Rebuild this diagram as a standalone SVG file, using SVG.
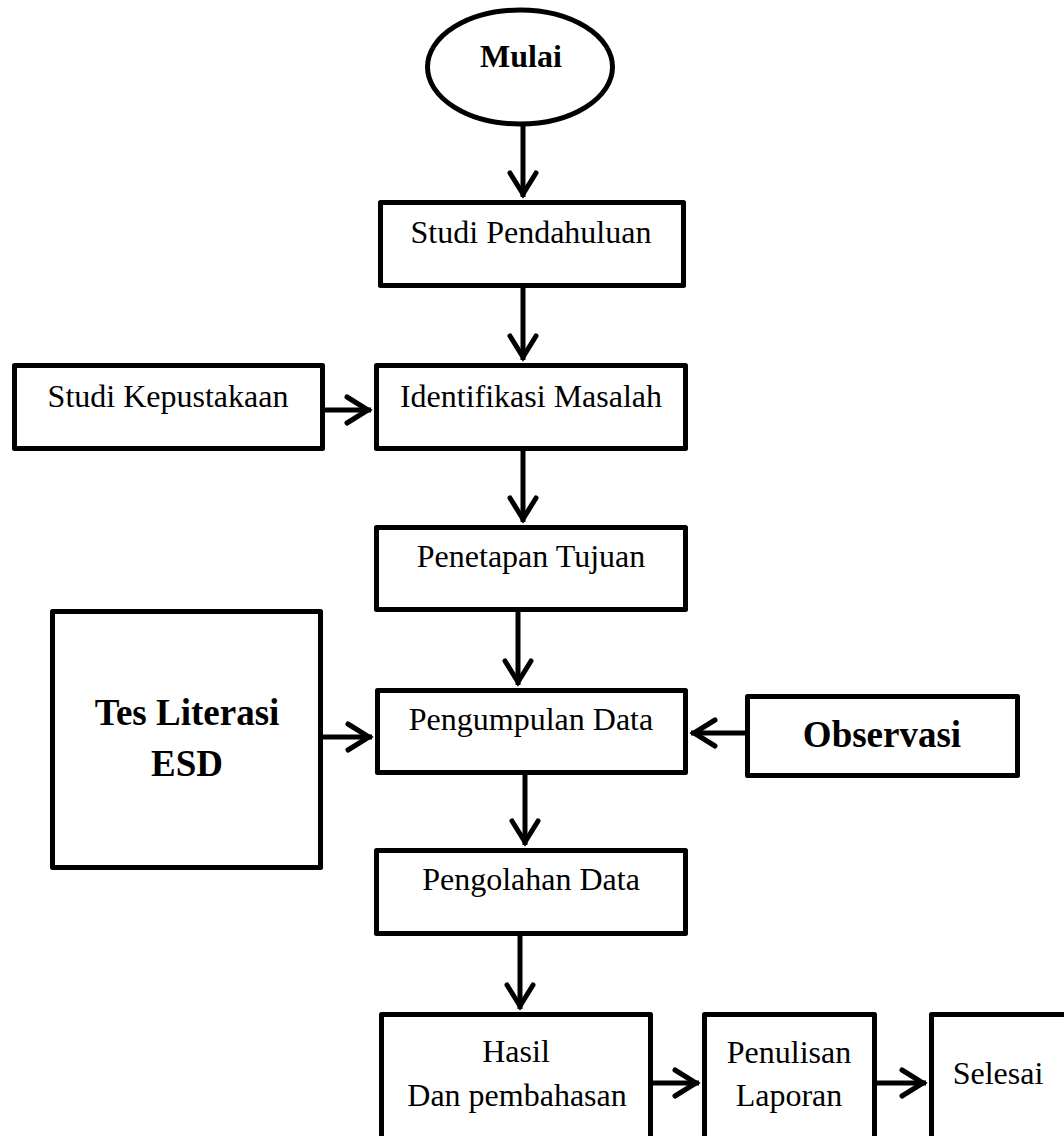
<svg xmlns="http://www.w3.org/2000/svg" width="1064" height="1136" viewBox="0 0 1064 1136">
<style>
.box{fill:#fff;stroke:#000;stroke-width:5;stroke-linejoin:round}
.t{font-family:"Liberation Serif","Times New Roman",serif;font-size:32px;fill:#000;text-anchor:middle}
.b{font-weight:bold}
.big{font-size:37px}
.conn line{stroke:#000;stroke-width:5}
</style>
<defs>
<marker id="ah" markerUnits="userSpaceOnUse" markerWidth="40" markerHeight="40" viewBox="-30 -20 40 40" refX="3" refY="0" orient="auto">
<path d="M-21,-13 L0,0 L-21,13" fill="none" stroke="#000" stroke-width="5" stroke-linecap="round" stroke-linejoin="miter"/>
</marker>
</defs>
<rect width="1064" height="1136" fill="#fff"/>
<g class="conn">
<line x1="523" y1="126" x2="523" y2="197" marker-end="url(#ah)"/>
<line x1="523" y1="288" x2="523" y2="360" marker-end="url(#ah)"/>
<line x1="523" y1="451" x2="523" y2="522" marker-end="url(#ah)"/>
<line x1="518" y1="612" x2="518" y2="685" marker-end="url(#ah)"/>
<line x1="525" y1="775" x2="525" y2="845" marker-end="url(#ah)"/>
<line x1="520" y1="936" x2="520" y2="1009" marker-end="url(#ah)"/>
<line x1="325" y1="410" x2="371" y2="410" marker-end="url(#ah)"/>
<line x1="323" y1="737" x2="372" y2="737" marker-end="url(#ah)"/>
<line x1="745" y1="733" x2="691" y2="733" marker-end="url(#ah)"/>
<line x1="653" y1="1083" x2="699" y2="1083" marker-end="url(#ah)"/>
<line x1="877" y1="1083" x2="926" y2="1083" marker-end="url(#ah)"/>
</g>
<g id="mulai">
<ellipse cx="520" cy="67" rx="92.5" ry="57" fill="#fff" stroke="#000" stroke-width="5"/>
<text class="t b" x="521" y="67">Mulai</text>
</g>
<g id="studi-pendahuluan">
<rect class="box" x="380.5" y="202.5" width="303" height="83"/>
<text class="t" x="531" y="243">Studi Pendahuluan</text>
</g>
<g id="studi-kepustakaan">
<rect class="box" x="14.5" y="365.5" width="308" height="83"/>
<text class="t" x="168" y="407">Studi Kepustakaan</text>
</g>
<g id="identifikasi-masalah">
<rect class="box" x="376.5" y="365.5" width="309" height="83"/>
<text class="t" x="531" y="407">Identifikasi Masalah</text>
</g>
<g id="penetapan-tujuan">
<rect class="box" x="376.5" y="527.5" width="309" height="82"/>
<text class="t" x="531" y="567">Penetapan Tujuan</text>
</g>
<g id="tes-literasi">
<rect class="box" x="52.5" y="611.5" width="268" height="256"/>
<text class="t b big" x="187" y="725">Tes Literasi</text>
<text class="t b big" x="187" y="776">ESD</text>
</g>
<g id="pengumpulan-data">
<rect class="box" x="377.5" y="690.5" width="308" height="82"/>
<text class="t" x="531" y="730">Pengumpulan Data</text>
</g>
<g id="observasi">
<rect class="box" x="747.5" y="696.5" width="270" height="79"/>
<text class="t b big" x="882" y="747">Observasi</text>
</g>
<g id="pengolahan-data">
<rect class="box" x="376.5" y="850.5" width="309" height="83"/>
<text class="t" x="531" y="890">Pengolahan Data</text>
</g>
<g id="hasil">
<rect class="box" x="381.5" y="1014.5" width="269" height="140"/>
<text class="t" x="516" y="1062">Hasil</text>
<text class="t" x="517" y="1106">Dan pembahasan</text>
</g>
<g id="penulisan-laporan">
<rect class="box" x="704.5" y="1014.5" width="170" height="140"/>
<text class="t" x="789" y="1063">Penulisan</text>
<text class="t" x="789" y="1106">Laporan</text>
</g>
<g id="selesai">
<rect class="box" x="931.5" y="1014.5" width="150" height="140"/>
<text class="t" x="998" y="1084">Selesai</text>
</g>
</svg>
